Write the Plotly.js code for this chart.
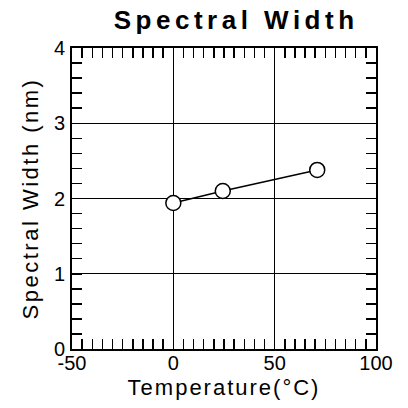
<!DOCTYPE html>
<html>
<head>
<meta charset="utf-8">
<script src="https://cdn.plot.ly/plotly-3.0.1.min.js"></script>
<style>
html,body{margin:0;padding:0;background:#fff;}
#chart{width:408px;height:408px;}
.gtitle{letter-spacing:4.5px;}
.xtitle{letter-spacing:2px;}
.ytitle{letter-spacing:2.5px;}
</style>
</head>
<body>
<div id="chart"></div>
<script>
const temperature = [0, 24.4, 71];
const spectralWidth = [1.94, 2.10, 2.38];
const xTickVals = [-50, 0, 50, 100];
const xTickText = ['-50', '0', '50', '100'];
const yTickVals = [0, 1, 2, 3, 4];
const yTickText = ['0', '1', '2', '3', '4'];

const font = 'Liberation Sans, Arial, sans-serif';

const trace = {
  x: temperature,
  y: spectralWidth,
  type: 'scatter',
  mode: 'lines+markers',
  line: {color: '#000', width: 1.5},
  marker: {symbol: 'circle', size: 15, color: '#fff', line: {color: '#000', width: 1.5}},
  showlegend: false,
  cliponaxis: false
};

const axisCommon = {
  showline: true,
  linecolor: '#000',
  linewidth: 2,
  mirror: 'allticks',
  ticks: 'inside',
  ticklen: 10,
  tickwidth: 1.5,
  tickcolor: '#000',
  showgrid: true,
  gridcolor: '#000',
  gridwidth: 1.3,
  zeroline: false,
  tickfont: {family: font, size: 20, color: '#000'},
  fixedrange: true
};

const layout = {
  width: 408,
  height: 408,
  paper_bgcolor: '#fff',
  plot_bgcolor: '#fff',
  margin: {l: 72, r: 32, t: 48, b: 59},
  title: {
    text: 'Spectral Width',
    font: {family: font, size: 26, color: '#000', weight: 'bold'},
    x: 0.54, xref: 'paper', xanchor: 'center',
    y: 0.952, yref: 'container', yanchor: 'middle'
  },
  xaxis: Object.assign({}, axisCommon, {
    range: [-50, 100],
    tickmode: 'array',
    tickvals: xTickVals,
    ticktext: xTickText,
    ticklabelstandoff: -5,
    minor: {dtick: 5, tick0: 0, ticks: 'inside', ticklen: 10, tickwidth: 1.5, tickcolor: '#000', showgrid: false},
    title: {text: 'Temperature(°C)', font: {family: font, size: 22, color: '#000'}, standoff: 7}
  }),
  yaxis: Object.assign({}, axisCommon, {
    range: [0, 4],
    tickmode: 'array',
    tickvals: yTickVals,
    ticktext: yTickText,
    ticklabelstandoff: 1,
    minor: {dtick: 0.2, tick0: 0, ticks: 'inside', ticklen: 10, tickwidth: 1.5, tickcolor: '#000', showgrid: false},
    title: {text: 'Spectral Width (nm)', font: {family: font, size: 22, color: '#000'}, standoff: 9}
  })
};

Plotly.newPlot('chart', [trace], layout, {displayModeBar: false, staticPlot: true});
</script>
</body>
</html>
